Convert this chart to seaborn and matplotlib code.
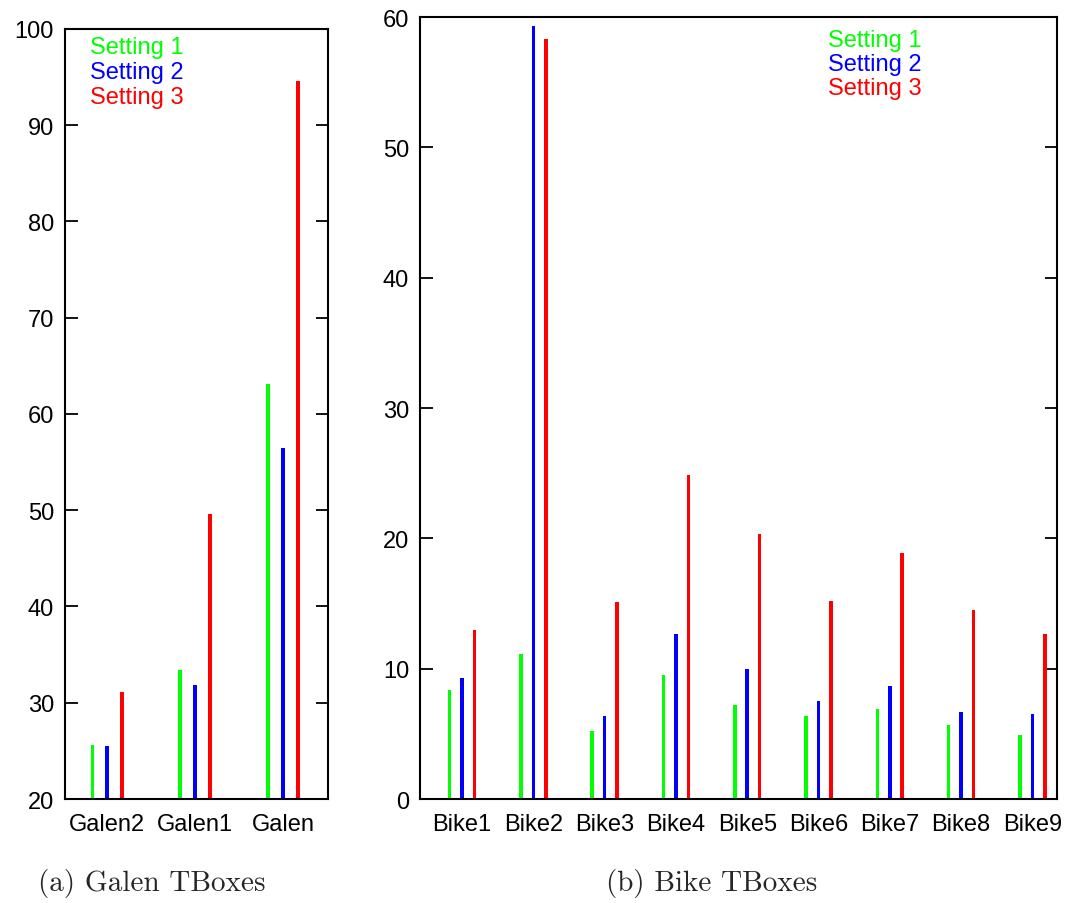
import pandas as pd
import matplotlib.pyplot as plt
import seaborn as sns

# values
galen_names = ['Galen2', 'Galen1', 'Galen']
galen_s1 = [25.6, 33.4, 63.1]
galen_s2 = [25.5, 31.8, 56.5]
galen_s3 = [31.1, 49.6, 94.6]

bike_names = ['Bike1', 'Bike2', 'Bike3', 'Bike4', 'Bike5', 'Bike6', 'Bike7', 'Bike8', 'Bike9']
bike_s1 = [8.4, 11.1, 5.2, 9.5, 7.2, 6.4, 6.9, 5.7, 4.9]
bike_s2 = [9.3, 59.3, 6.4, 12.7, 10.0, 7.5, 8.7, 6.7, 6.5]
bike_s3 = [13.0, 58.3, 15.1, 24.9, 20.3, 15.2, 18.9, 14.5, 12.7]

settings = ['Setting 1', 'Setting 2', 'Setting 3']
colors = ['#00ff00', '#0000ff', '#ff0000']


def long_table(names, *series):
    rows = []
    for setting, vals in zip(settings, series):
        for n, v in zip(names, vals):
            rows.append({'tbox': n, 'setting': setting, 'time': v})
    return pd.DataFrame(rows)


df_galen = long_table(galen_names, galen_s1, galen_s2, galen_s3)
df_bike = long_table(bike_names, bike_s1, bike_s2, bike_s3)

sns.set_style('white')
plt.rcParams['font.family'] = ['Liberation Sans', 'DejaVu Sans']

fig = plt.figure(figsize=(10.69, 9.04), dpi=100)
ax1 = fig.add_axes([0.0608, 0.115, 0.246, 0.852])
ax2 = fig.add_axes([0.393, 0.115, 0.596, 0.865])

sns.barplot(data=df_galen, x='tbox', y='time', hue='setting', order=galen_names,
            hue_order=settings, palette=colors, width=0.51, gap=0.77,
            legend=False, ax=ax1, saturation=1, linewidth=0)
sns.barplot(data=df_bike, x='tbox', y='time', hue='setting', order=bike_names,
            hue_order=settings, palette=colors, width=0.525, gap=0.72,
            legend=False, ax=ax2, saturation=1, linewidth=0)

ax1.set_ylim(20, 100)
ax1.set_xlim(-0.48, 2.51)
ax1.set_yticks(range(20, 101, 10))
ax2.set_ylim(0, 60)
ax2.set_xlim(-0.59, 8.35)
ax2.set_yticks(range(0, 61, 10))

for ax in [ax1, ax2]:
    ax.set_xlabel('')
    ax.set_ylabel('')
    for s in ax.spines.values():
        s.set_visible(True)
        s.set_color('black')
        s.set_linewidth(1.5)
    ax.tick_params(axis='y', direction='in', length=9, width=1.3,
                   left=True, right=True, labelsize=17, pad=8,
                   colors='black')
    ax.tick_params(axis='x', length=0, labelsize=17, pad=10,
                   labelcolor='black')

# coloured text legends
for i, (name, c) in enumerate(zip(settings, colors)):
    fig.text(90 / 1069, 1 - (48 + 25 * i) / 904, name, color=c, fontsize=17,
             va='center', ha='left')
    fig.text(828 / 1069, 1 - (41 + 24 * i) / 904, name, color=c, fontsize=17,
             va='center', ha='left')

fig.text(152 / 1069, 1 - 884 / 904, '(a) Galen TBoxes', fontsize=21,
         family='cmr10', ha='center', va='center')
fig.text(712 / 1069, 1 - 884 / 904, '(b) Bike TBoxes', fontsize=21,
         family='cmr10', ha='center', va='center')

fig.savefig('out.png', dpi=100)
